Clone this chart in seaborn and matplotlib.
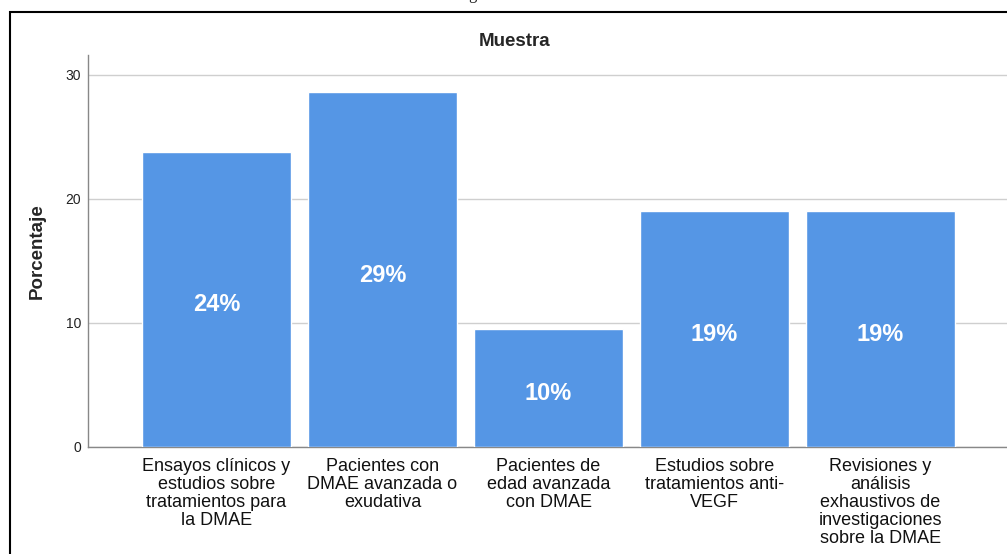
import matplotlib
matplotlib.use("Agg")
import matplotlib.pyplot as plt
import seaborn as sns
import pandas as pd
from matplotlib.patches import Rectangle

categories = [
    "Ensayos clínicos y\nestudios sobre\ntratamientos para\nla DMAE",
    "Pacientes con\nDMAE avanzada o\nexudativa",
    "Pacientes de\nedad avanzada\ncon DMAE",
    "Estudios sobre\ntratamientos anti-\nVEGF",
    "Revisiones y\nanálisis\nexhaustivos de\ninvestigaciones\nsobre la DMAE",
]
values = [23.8, 28.6, 9.5, 19.0, 19.0]
bar_labels = ["24%", "29%", "10%", "19%", "19%"]
yticks = [0, 10, 20, 30]

sns.set_theme(style="white")
plt.rcParams["font.family"] = ["Liberation Sans", "DejaVu Sans"]

W, H = 1007, 554
fig = plt.figure(figsize=(W / 100, H / 100), dpi=100)
ax = fig.add_axes([88 / W, (H - 447) / H, (1009 - 88) / W, (447 - 55) / H])

df = pd.DataFrame({"cat": categories, "val": values})
sns.barplot(data=df, x="cat", y="val", color="#5596E5", saturation=1,
            width=0.9, ax=ax, zorder=3)

ax.set_xlim(-0.774, 4.774)
ax.set_ylim(0, 31.6)
ax.set_yticks(yticks)
ax.set_yticklabels([str(t) for t in yticks], fontsize=10, color="#222222")
ax.yaxis.grid(True, color="#CFCFCF", linewidth=1, zorder=0)
ax.set_axisbelow(True)
ax.tick_params(axis="both", length=0)
ax.tick_params(axis="y", pad=5)
ax.tick_params(axis="x", pad=8)
for lbl in ax.get_xticklabels():
    lbl.set_fontsize(13)
    lbl.set_linespacing(1.07)
    lbl.set_color("#111111")
    lbl.set_va("top")

for side in ["top", "right"]:
    ax.spines[side].set_visible(False)
ax.spines["left"].set_color("#888888")
ax.spines["bottom"].set_color("#888888")
ax.spines["left"].set_linewidth(1)
ax.spines["bottom"].set_linewidth(1)

ax.bar_label(ax.containers[0], labels=bar_labels, label_type="center",
             padding=-4, color="white", fontsize=17, fontweight="bold")

ax.set_xlabel("")
ax.set_ylabel("Porcentaje", fontsize=13.5, fontweight="bold", labelpad=14)

fig.text(515 / W, 1 - 41 / H, "Muestra", ha="center", va="center",
         fontsize=13.5, fontweight="bold")

# outer frame
fig.patches.append(Rectangle((10 / W, -0.1), 1.2, 1 - 12 / H + 0.1,
                             transform=fig.transFigure, fill=False,
                             edgecolor="black", linewidth=1.5))
# cut-off caption descender
fig.text(472 / W, 1.0 + 1 / H, "g", ha="center", va="baseline", fontsize=12,
         family=["Liberation Serif", "DejaVu Serif"])

fig.savefig("out.png", dpi=100)
